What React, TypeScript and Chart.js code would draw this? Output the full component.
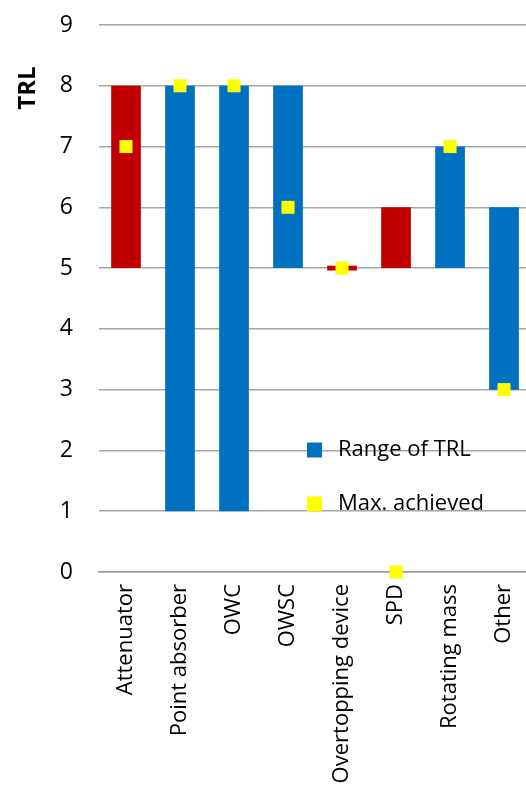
import React, { useEffect, useRef } from "react";
import { Chart, registerables } from "chart.js";

Chart.register(...registerables);

const categories = ["Attenuator", "Point absorber", "OWC", "OWSC", "Overtopping device", "SPD", "Rotating mass", "Other"];
const rangeLow = [5, 1, 1, 5, 4.96, 5, 5, 3];
const rangeHigh = [8, 8, 8, 8, 5.04, 6, 7, 6];
const barColors = ["#C00000", "#0070C0", "#0070C0", "#0070C0", "#C00000", "#C00000", "#0070C0", "#0070C0"];
const maxAchieved = [7, 8, 8, 6, 5, 0, 7, 3];
const yTicks = [0, 1, 2, 3, 4, 5, 6, 7, 8, 9];
const legendLabels = ["Range of TRL", "Max. achieved"];
const axisTitle = "TRL";

const FONT = "'Open Sans', 'DejaVu Sans', sans-serif";

const overlayPlugin = {
  id: "overlay",
  afterDraw(chart: any) {
    const ctx = chart.ctx;
    const a = chart.chartArea;
    ctx.save();
    // axis title
    ctx.translate(28, 88);
    ctx.rotate(-Math.PI / 2);
    ctx.font = `bold 24px ${FONT}`;
    ctx.fillStyle = "#000";
    ctx.textAlign = "center";
    ctx.textBaseline = "middle";
    ctx.fillText(axisTitle, 0, 0);
    ctx.restore();

    ctx.save();
    const lx = a.left + 208;
    const rows = [
      { y: 450, color: "#0070C0" },
      { y: 504, color: "#FFFF00" },
    ];
    ctx.font = `22px ${FONT}`;
    ctx.textBaseline = "middle";
    ctx.textAlign = "left";
    rows.forEach((r, i) => {
      ctx.fillStyle = r.color;
      ctx.fillRect(lx, r.y - 7.5, 15, 15);
      ctx.fillStyle = "#000";
      ctx.fillText(legendLabels[i], lx + 31, r.y);
    });
    ctx.restore();
  },
};

export default function App() {
  const ref = useRef<HTMLCanvasElement>(null);
  useEffect(() => {
    if (!ref.current) return;
    const chart = new Chart(ref.current, {
      type: "bar",
      data: {
        labels: categories,
        datasets: [
          {
            type: "scatter" as any,
            data: maxAchieved.map((v, i) => ({ x: categories[i], y: v })) as any,
            backgroundColor: "#FFFF00",
            borderWidth: 0,
            pointStyle: "rect",
            pointRadius: 9.2,
            pointHoverRadius: 9.2,
            showLine: false,
            clip: false,
            order: 0,
          } as any,
          {
            type: "bar",
            data: rangeLow.map((l, i) => [l, rangeHigh[i]]) as any,
            backgroundColor: barColors,
            borderWidth: 0,
            categoryPercentage: 1,
            barPercentage: 0.55,
            grouped: false,
            order: 1,
          },
        ],
      },
      options: {
        animation: false,
        responsive: false,
        layout: { padding: { top: 25, left: 0, right: 0, bottom: 0 } },
        plugins: {
          legend: { display: false },
          tooltip: { enabled: false },
        },
        scales: {
          x: {
            type: "category",
            offset: true,
            grid: { display: false, drawTicks: false },
            border: { display: true, color: "#9a9a9a", width: 1.5 },
            ticks: {
              color: "#000",
              font: { family: FONT, size: 22 },
              maxRotation: 90,
              minRotation: 90,
              padding: 12,
              autoSkip: false,
            },
            afterFit: (s: any) => {
              s.height = 218;
            },
          },
          y: {
            min: 0,
            max: 9,
            afterBuildTicks: (s: any) => {
              s.ticks = yTicks.map((v) => ({ value: v }));
            },
            grid: { color: "#a6a6a6", lineWidth: 1.5, drawTicks: false },
            border: { display: false },
            ticks: {
              color: "#000",
              font: { family: FONT, size: 23 },
              padding: 26,
            },
            afterFit: (s: any) => {
              s.width = 99;
              s.paddingTop = 0;
              s.paddingBottom = 0;
            },
          },
        },
      },
      plugins: [overlayPlugin],
    });
    return () => chart.destroy();
  }, []);
  return (
    <div style={{ position: "absolute", left: 0, top: 0, width: 526, height: 790, overflow: "hidden", background: "#fff" }}>
      <canvas ref={ref} width={543} height={790} style={{ width: 543, height: 790, display: "block" }} />
    </div>
  );
}
